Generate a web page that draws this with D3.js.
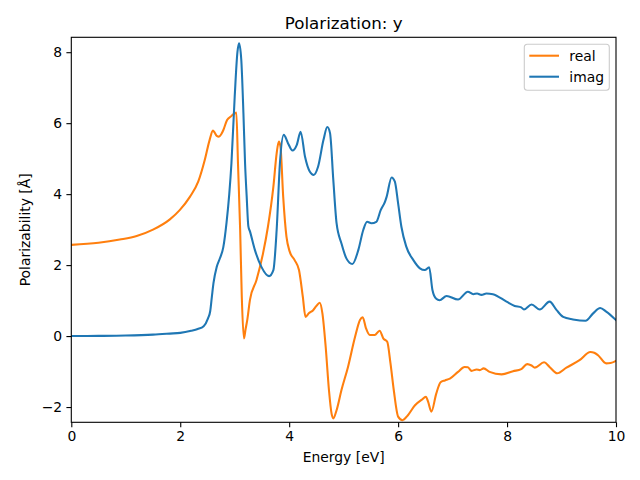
<!DOCTYPE html>
<html>
<head>
<meta charset="utf-8">
<script src="https://cdn.jsdelivr.net/npm/d3@7"></script>
<style>
  body { margin: 0; background: #fff; }
  svg { font-family: "DejaVu Sans", sans-serif; }
</style>
</head>
<body>
<svg class="chart"></svg>
<script>
const realX = [0, 0.5, 0.89, 1.2, 1.5, 1.81, 1.99, 2.18, 2.33, 2.45, 2.54, 2.6, 2.63, 2.67, 2.71, 2.75, 2.79, 2.86, 2.94, 3.0, 3.03,
  3.06, 3.1, 3.13, 3.17, 3.2, 3.23, 3.28, 3.4, 3.52, 3.61, 3.71, 3.77, 3.81, 3.84, 3.89, 3.95, 4.01, 4.1, 4.18, 4.25, 4.3, 4.36, 4.44, 4.5,
  4.56, 4.61, 4.67, 4.73, 4.78, 4.81, 4.87, 4.96, 5.08, 5.21, 5.3, 5.35, 5.41, 5.48, 5.57, 5.66, 5.73, 5.8, 5.86, 5.92, 6.0, 6.08, 6.18,
  6.31, 6.43, 6.51, 6.55, 6.61, 6.7, 6.78, 6.86, 6.95, 7.1, 7.22, 7.28, 7.35, 7.44, 7.5, 7.57, 7.68, 7.9, 8.11, 8.26, 8.37, 8.45, 8.51,
  8.68, 8.78, 8.92, 9.09, 9.33, 9.53, 9.6, 9.67, 9.82, 9.9, 10];
const realY = [2.57, 2.63, 2.72, 2.82, 3.0, 3.29, 3.55, 3.93, 4.35, 4.96, 5.53, 5.79, 5.74, 5.64, 5.62, 5.68, 5.8, 6.09, 6.2, 6.28, 6.3,
  4.87, 2.99, 1.11, -0.07, 0.2, 0.45, 1.02, 1.58, 2.33, 3.08, 4.21, 5.15, 5.48, 5.34, 3.93, 2.8, 2.38, 2.14, 1.86, 1.11, 0.54, 0.64, 0.73, 0.85,
  0.94, 0.64, -0.3, -1.52, -2.2, -2.32, -2.09, -1.52, -0.87, -0.02, 0.45, 0.53, 0.22, 0.03, 0.03, 0.15, -0.07, -0.16, -0.77, -1.52, -2.27, -2.37, -2.23,
  -1.95, -1.8, -1.71, -1.85, -2.13, -1.62, -1.3, -1.25, -1.2, -1.01, -0.87, -0.88, -0.98, -0.94, -0.96, -0.91, -1.01, -1.08, -0.99, -0.93, -0.79, -0.83, -0.89,
  -0.74, -0.87, -1.05, -0.89, -0.68, -0.45, -0.47, -0.54, -0.77, -0.76, -0.7];

const imagX = [0, 0.5, 1.0, 1.5, 1.81, 2.0, 2.2, 2.32, 2.43, 2.51, 2.55, 2.58, 2.61, 2.67, 2.73, 2.79, 2.85, 2.9, 2.94, 3.0, 3.05, 3.08, 3.12,
  3.16, 3.19, 3.22, 3.25, 3.28, 3.37, 3.49, 3.63, 3.71, 3.77, 3.83, 3.9, 3.98, 4.06, 4.14, 4.21, 4.29, 4.38, 4.45, 4.53, 4.63, 4.7, 4.75,
  4.81, 4.87, 4.96, 5.05, 5.16, 5.27, 5.36, 5.43, 5.51, 5.6, 5.68, 5.76, 5.79, 5.88, 5.94, 6.0, 6.06, 6.15, 6.28, 6.4, 6.49, 6.57, 6.63,
  6.7, 6.76, 6.89, 7.1, 7.28, 7.38, 7.45, 7.53, 7.62, 7.74, 7.99, 8.14, 8.26, 8.31, 8.45, 8.6, 8.78, 8.91, 9.03, 9.21, 9.44, 9.58, 9.71,
  9.82, 10];
const imagY = [0, 0.005, 0.015, 0.04, 0.07, 0.09, 0.15, 0.2, 0.28, 0.5, 0.7, 1.1, 1.49, 1.95, 2.2, 2.5, 3.2, 4.0, 4.87, 6.75, 8.0, 8.25, 7.8,
  6.28, 4.87, 3.93, 3.1, 2.95, 2.43, 1.95, 1.69, 1.86, 2.99, 4.87, 5.67, 5.43, 5.23, 5.39, 5.76, 5.06, 4.63, 4.54, 4.77, 5.53, 5.89, 5.72,
  4.4, 3.18, 2.61, 2.19, 2.03, 2.43, 2.99, 3.22, 3.18, 3.22, 3.55, 3.79, 3.93, 4.47, 4.35, 3.74, 3.08, 2.52, 2.14, 1.91, 1.86, 1.94, 1.3,
  1.05, 1.01, 1.13, 1.03, 1.25, 1.18, 1.2, 1.16, 1.2, 1.18, 0.97, 0.85, 0.81, 0.75, 0.89, 0.75, 0.97, 0.73, 0.54, 0.47, 0.43, 0.64, 0.79,
  0.69, 0.45];

const xTicks = [0, 2, 4, 6, 8, 10];
const yTicks = [-2, 0, 2, 4, 6, 8];
const seriesNames = ["real", "imag"];
const seriesColors = ["#ff7f0e", "#1f77b4"];

const W = 640, H = 480;
const margin = {top: 37.3, right: 24, bottom: 57.7, left: 71.3};
const width = W - margin.left - margin.right;
const height = H - margin.top - margin.bottom;

const svg = d3.select('.chart')
  .attr('width', W)
  .attr('height', H);

const x = d3.scaleLinear().domain([0, 10]).range([0, width]);
const y = d3.scaleLinear().domain([-2.43, 8.42]).range([height, 0]);

const chart = svg.append('g')
  .attr('transform', `translate(${margin.left}, ${margin.top})`);

const defs = svg.append('defs');
defs.append('clipPath').attr('id', 'clip')
  .append('rect').attr('width', width).attr('height', height);

const line = d3.line()
  .x(d => x(d[0]))
  .y(d => y(d[1]))
  .curve(d3.curveMonotoneX);

const series = [
  realX.map((v, i) => [v, realY[i]]),
  imagX.map((v, i) => [v, imagY[i]]),
];

chart.append('g').attr('clip-path', 'url(#clip)')
  .selectAll('path')
  .data(series)
  .enter()
.append('path')
  .attr('d', line)
  .attr('fill', 'none')
  .attr('stroke', (d, i) => seriesColors[i])
  .attr('stroke-width', 2.08)
  .attr('stroke-linejoin', 'round')
  .attr('stroke-linecap', 'square');

const xAxis = d3.axisBottom(x).tickValues(xTicks).tickSize(4.9).tickPadding(4.2)
  .tickFormat(d3.format('d'));
const yAxis = d3.axisLeft(y).tickValues(yTicks).tickSize(4.9).tickPadding(4.2)
  .tickFormat(d => d < 0 ? '\u2212' + Math.abs(d) : d);

const gx = chart.append('g')
  .attr('transform', `translate(0, ${height})`)
  .call(xAxis);
const gy = chart.append('g')
  .call(yAxis);

[gx, gy].forEach(g => {
  g.select('.domain').remove();
  g.selectAll('line').attr('stroke', '#000').attr('stroke-width', 1.1);
  g.selectAll('text').attr('fill', '#000').style('font-size', '13.9px')
    .style('font-family', '"DejaVu Sans", sans-serif');
});

// frame
chart.append('rect')
  .attr('width', width)
  .attr('height', height)
  .attr('fill', 'none')
  .attr('stroke', '#000')
  .attr('stroke-width', 1.1);

svg.append('text')
  .attr('x', margin.left + width / 2)
  .attr('y', 29)
  .attr('text-anchor', 'middle')
  .style('font-size', '16.7px')
  .text('Polarization: y');

svg.append('text')
  .attr('x', margin.left + width / 2)
  .attr('y', 462)
  .attr('text-anchor', 'middle')
  .style('font-size', '13.9px')
  .text('Energy [eV]');

svg.append('text')
  .attr('transform', `translate(30, ${margin.top + height / 2}) rotate(-90)`)
  .attr('text-anchor', 'middle')
  .style('font-size', '13.9px')
  .text('Polarizability [Å]');

// legend
const legend = svg.append('g').attr('transform', 'translate(524.3, 44.3)');
legend.append('rect')
  .attr('width', 85)
  .attr('height', 46)
  .attr('rx', 3)
  .attr('fill', '#fff')
  .attr('fill-opacity', 0.8)
  .attr('stroke', '#cccccc')
  .attr('stroke-width', 1.1);

const item = legend.selectAll('.item')
  .data(seriesNames)
  .enter()
.append('g')
  .attr('class', 'item')
  .attr('transform', (d, i) => `translate(0, ${11.4 + i * 21})`);

item.append('line')
  .attr('x1', 5).attr('x2', 34.7)
  .attr('stroke', (d, i) => seriesColors[i])
  .attr('stroke-width', 2.08);

item.append('text')
  .attr('x', 45)
  .attr('y', 4.9)
  .style('font-size', '13.9px')
  .text(d => d);
</script>
</body>
</html>
